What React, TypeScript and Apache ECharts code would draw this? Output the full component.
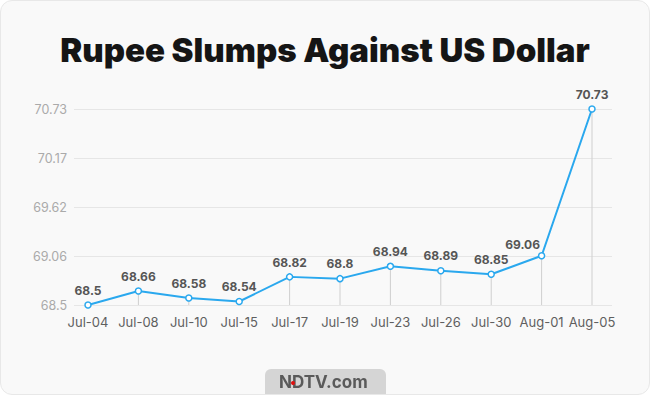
import React, { useEffect, useRef } from "react";
import * as echarts from "echarts";

const categories = ["Jul-04", "Jul-08", "Jul-10", "Jul-15", "Jul-17", "Jul-19", "Jul-23", "Jul-26", "Jul-30", "Aug-01", "Aug-05"];
const rates = [68.5, 68.66, 68.58, 68.54, 68.82, 68.8, 68.94, 68.89, 68.85, 69.06, 70.73];
const yTickLabels = ["68.5", "69.06", "69.62", "70.17", "70.73"];
const yMin = 68.5;
const yMax = 70.73;
const titleText = "Rupee Slumps Against US Dollar";
const footerText = "NDTV.com";

export default function App() {
  const ref = useRef<HTMLDivElement>(null);
  useEffect(() => {
    if (!ref.current) return;
    const chart = echarts.init(ref.current, null, { renderer: "svg" });
    const font = "Inter, 'Noto Sans', sans-serif";
    const interval = (yMax - yMin) / 4;
    chart.setOption({
      animation: false,
      backgroundColor: "transparent",
      title: {
        text: titleText,
        left: "center",
        top: 27,
        textStyle: { fontFamily: font, fontWeight: 900, fontSize: 33, color: "#151515" },
      },
      grid: [
        { left: 73, right: 37, top: 108, bottom: 89 },
        { left: 87, right: 57, top: 108, bottom: 89 },
      ],
      xAxis: [
        { type: "category", gridIndex: 0, data: categories, show: false },
        {
          type: "category",
          gridIndex: 1,
          data: categories,
          boundaryGap: false,
          axisLine: { show: false },
          axisTick: { show: false },
          axisLabel: { color: "#5f5f5f", fontFamily: font, fontSize: 13, margin: 10, interval: 0, hideOverlap: false },
        },
      ],
      yAxis: [
        {
          type: "value",
          gridIndex: 0,
          min: yMin,
          max: yMax,
          interval: interval,
          axisLine: { show: false },
          axisTick: { show: false },
          splitLine: { lineStyle: { color: "#e6e6e6", width: 1 } },
          axisLabel: {
            color: "#aaa",
            fontFamily: font,
            fontSize: 12.5,
            margin: 7,
            formatter: (_v: number, i: number) => yTickLabels[i] ?? "",
          },
        },
        { type: "value", gridIndex: 1, min: yMin, max: yMax, show: false },
      ],
      series: [
        {
          type: "bar",
          xAxisIndex: 1,
          yAxisIndex: 1,
          data: rates,
          barWidth: 1,
          itemStyle: { color: "#cfcfcf" },
          silent: true,
          z: 1,
        },
        {
          type: "line",
          xAxisIndex: 1,
          yAxisIndex: 1,
          data: rates.map((v, i) =>
            i === 9
              ? { value: v, label: { offset: [-19, 3] } }
              : v
          ),
          symbol: "circle",
          symbolSize: 6,
          lineStyle: { color: "#2aa8ee", width: 2 },
          itemStyle: { color: "#ffffff", borderColor: "#2aa8ee", borderWidth: 1.5 },
          label: {
            show: true,
            position: "top",
            distance: 5,
            color: "#555",
            fontWeight: "bold",
            fontFamily: font,
            fontSize: 12,
          },
          z: 3,
        },
      ],
      graphic: [
        {
          type: "rect",
          left: 264,
          top: 368,
          shape: { width: 121, height: 30, r: [6, 6, 0, 0] },
          style: { fill: "#d5d5d5" },
        },
        {
          type: "text",
          left: 278,
          top: 372,
          style: { text: footerText, fill: "#5a5a5a", font: "bold 17px " + font },
          z: 10,
        },
        {
          type: "circle",
          shape: { cx: 292, cy: 382, r: 2 },
          style: { fill: "#e01010" },
          z: 11,
        },
      ],
    });
    return () => chart.dispose();
  }, []);
  return (
    <div
      style={{
        position: "fixed",
        left: 0,
        top: 0,
        width: 650,
        height: 395,
        background: "#f9f9f9",
        border: "1px solid #e8e8e8",
        borderRadius: 12,
        boxSizing: "border-box",
        overflow: "hidden",
      }}
    >
      <div ref={ref} style={{ width: 648, height: 393 }} />
    </div>
  );
}
